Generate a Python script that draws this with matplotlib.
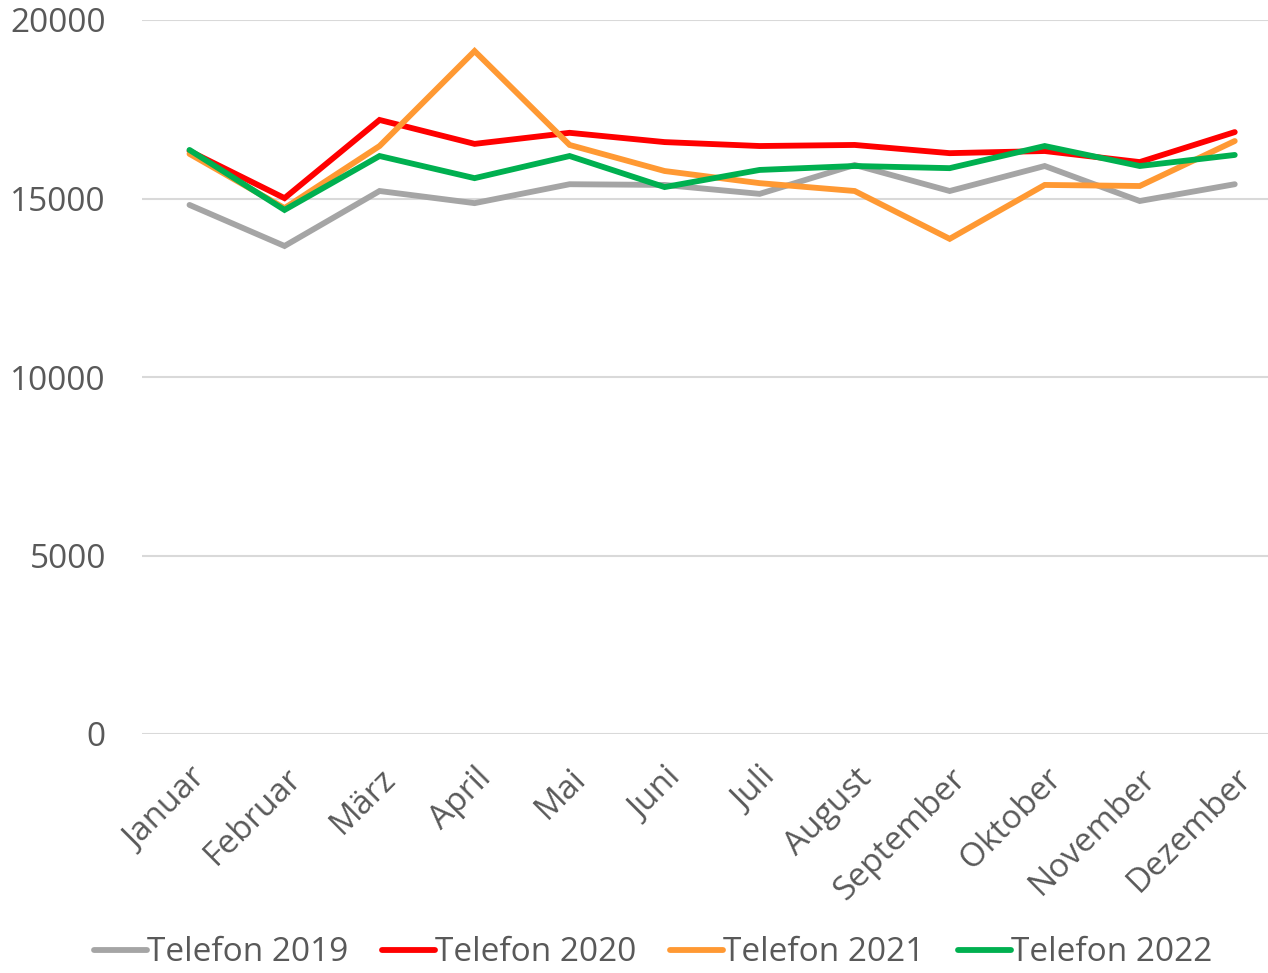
import matplotlib
matplotlib.use("Agg")
import matplotlib.pyplot as plt

months = ["Januar", "Februar", "März", "April", "Mai", "Juni", "Juli",
          "August", "September", "Oktober", "November", "Dezember"]
t2019 = [14820, 13670, 15210, 14870, 15400, 15380, 15130, 15940, 15210, 15910, 14930, 15400]
t2020 = [16330, 15010, 17200, 16530, 16840, 16580, 16470, 16500, 16270, 16330, 16020, 16860]
t2021 = [16250, 14730, 16470, 19130, 16500, 15770, 15430, 15210, 13870, 15380, 15350, 16610]
t2022 = [16360, 14680, 16190, 15570, 16190, 15320, 15800, 15910, 15850, 16470, 15910, 16220]
series_labels = ["Telefon 2019", "Telefon 2020", "Telefon 2021", "Telefon 2022"]
colors = ["#A5A5A5", "#FF0000", "#FF9933", "#00B050"]
yticks = [0, 5000, 10000, 15000, 20000]

plt.rcParams['font.family'] = ['Open Sans', 'DejaVu Sans']
W, H = 1268, 973
fig = plt.figure(figsize=(W/100, H/100), dpi=100)
ax = fig.add_axes([142/W, 1-734/H, (1268-142)/W, (734-20)/H])

x = list(range(len(months)))
for data, lab, c in zip([t2019, t2020, t2021, t2022], series_labels, colors):
    ax.plot(x, data, color=c, lw=4.2, label=lab, solid_capstyle='round', solid_joinstyle='miter')

ax.set_ylim(0, 20000)
ax.set_xlim(-0.5, 11.35)
ax.set_yticks(yticks)
ax.set_yticklabels([str(v) for v in yticks], fontsize=24, color="#595959")
ax.yaxis.grid(True, color="#D9D9D9", lw=1.5)
ax.set_axisbelow(True)
ax.tick_params(axis='y', length=0, pad=26)
ax.tick_params(axis='x', length=0, pad=20)
ax.set_xticks(x)
ax.set_xticklabels(months, rotation=45, ha='right', rotation_mode='anchor',
                   fontsize=24, color="#595959")
for s in ax.spines.values():
    s.set_visible(False)

leg = fig.legend(loc='lower center', bbox_to_anchor=(0.515, -0.027), ncol=4, frameon=False,
                 fontsize=24, handlelength=1.6, handletextpad=0.0, columnspacing=1.0,
                 labelcolor="#595959")

fig.savefig("out.png", dpi=100)
